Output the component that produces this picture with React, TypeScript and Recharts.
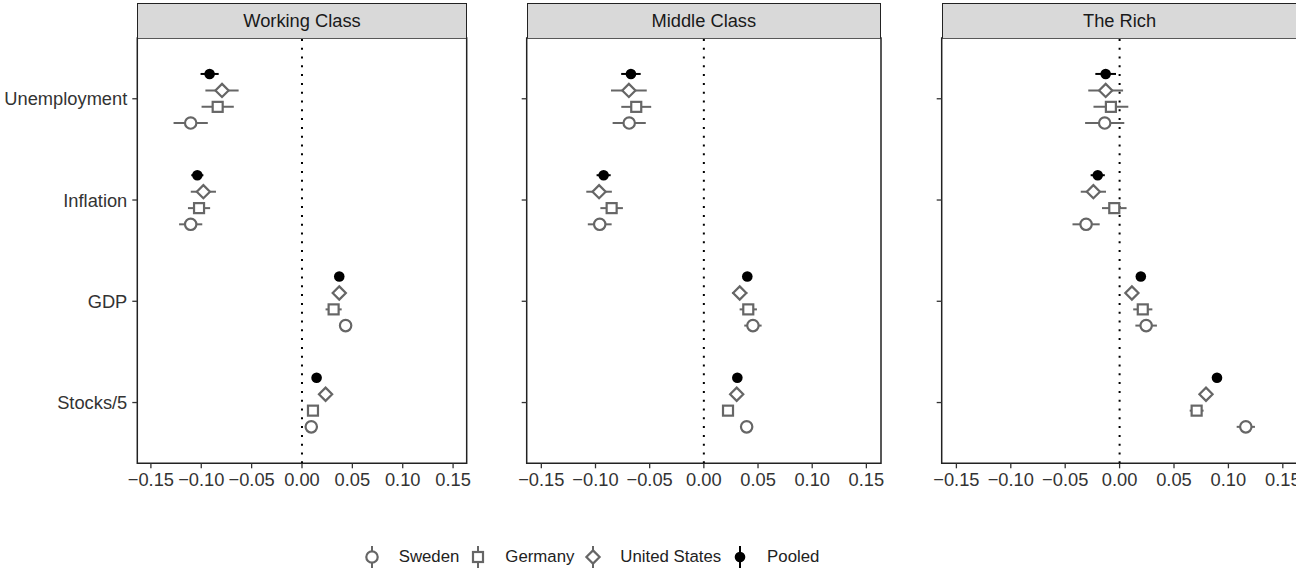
import React from 'react'
import { ScatterChart, Scatter, XAxis, YAxis, ErrorBar, ReferenceLine, ReferenceArea } from 'recharts'

const panels = ['Working Class', 'Middle Class', 'The Rich']
const categories = ['Unemployment', 'Inflation', 'GDP', 'Stocks/5']
const xTicks = [-0.15, -0.1, -0.05, 0, 0.05, 0.1, 0.15]
const series = ['Pooled', 'United States', 'Germany', 'Sweden']

// estimates and half-widths of the intervals, in category order
const wcPooled = [-0.0917, -0.1039, 0.037, 0.0145]
const wcPooledErr = [0.009, 0.006, 0.002, 0.002]
const wcUS = [-0.0794, -0.0979, 0.037, 0.0234]
const wcUSErr = [0.0165, 0.0125, 0.004, 0.003]
const wcGermany = [-0.0837, -0.1022, 0.0314, 0.0109]
const wcGermanyErr = [0.016, 0.011, 0.008, 0.004]
const wcSweden = [-0.1105, -0.1105, 0.0433, 0.0092]
const wcSwedenErr = [0.017, 0.0115, 0.005, 0.004]

const mcPooled = [-0.0673, -0.0925, 0.0401, 0.0309]
const mcPooledErr = [0.009, 0.0065, 0.002, 0.002]
const mcUS = [-0.0692, -0.0967, 0.0331, 0.0303]
const mcUSErr = [0.0165, 0.0118, 0.007, 0.003]
const mcGermany = [-0.0624, -0.0851, 0.041, 0.0223]
const mcGermanyErr = [0.0138, 0.0104, 0.008, 0.004]
const mcSweden = [-0.0689, -0.0961, 0.0453, 0.0395]
const mcSwedenErr = [0.0153, 0.011, 0.008, 0.004]

const trPooled = [-0.0128, -0.0201, 0.0195, 0.0895]
const trPooledErr = [0.0095, 0.0065, 0.002, 0.002]
const trUS = [-0.0128, -0.0241, 0.0113, 0.0794]
const trUSErr = [0.016, 0.0116, 0.006, 0.004]
const trGermany = [-0.008, -0.0049, 0.0213, 0.0708]
const trGermanyErr = [0.016, 0.0113, 0.0088, 0.0064]
const trSweden = [-0.0137, -0.0308, 0.0244, 0.116]
const trSwedenErr = [0.018, 0.0125, 0.0099, 0.0084]

const panelData = [
  [[wcPooled, wcPooledErr], [wcUS, wcUSErr], [wcGermany, wcGermanyErr], [wcSweden, wcSwedenErr]],
  [[mcPooled, mcPooledErr], [mcUS, mcUSErr], [mcGermany, mcGermanyErr], [mcSweden, mcSwedenErr]],
  [[trPooled, trPooledErr], [trUS, trUSErr], [trGermany, trGermanyErr], [trSweden, trSwedenErr]],
]

const dodge = [-0.245, -0.082, 0.08, 0.24]
const grey = '#666666'
const font = '"Liberation Sans", Arial, Helvetica, sans-serif'
const fontSize = 18.3
const legendFontSize = 16.8
const xDomain = [-0.1635, 0.1635]
const yDomain = [0.4, 4.6]

// plot-area boxes of the three panels (page coordinates)
const layout = [
  { left: 0, yAxisW: 137.3, plotW: 329.4, labels: true },
  { left: 505, yAxisW: 21.7, plotW: 354.3, labels: false },
  { left: 920, yAxisW: 21.7, plotW: 355.8, labels: false },
]
const chartTop = 30
const plotTop = 38
const plotH = 425.3

function Marker({ kind, cx, cy }: { kind: string; cx: number; cy: number }) {
  if (kind === 'Pooled') return <circle cx={cx} cy={cy} r={5.3} fill="#000" />
  if (kind === 'Sweden')
    return <circle cx={cx} cy={cy} r={5.7} fill="#fff" stroke={grey} strokeWidth={2.2} />
  if (kind === 'Germany')
    return <rect x={cx - 5} y={cy - 5} width={10} height={10} fill="#fff" stroke={grey} strokeWidth={2.2} />
  const d = 6.6
  return (
    <polygon
      points={`${cx},${cy - d} ${cx + d},${cy} ${cx},${cy + d} ${cx - d},${cy}`}
      fill="#fff"
      stroke={grey}
      strokeWidth={2.2}
    />
  )
}

const fmt = (v: number) => (v < 0 ? '\u2212' : '') + Math.abs(v).toFixed(2)

function Panel({ idx }: { idx: number }) {
  const cfg = layout[idx]
  const width = cfg.yAxisW + cfg.plotW + 12
  const height = 470
  return (
    <div style={{ position: 'absolute', left: cfg.left, top: chartTop }}>
      <ScatterChart
        width={width}
        height={height}
        margin={{ top: plotTop - chartTop, right: 12, left: 0, bottom: height - (plotTop - chartTop) - plotH - 30 }}
      >
        <XAxis
          type="number"
          dataKey="x"
          domain={xDomain}
          ticks={xTicks}
          tickFormatter={fmt}
          axisLine={false}
          tickLine={{ stroke: '#333', strokeWidth: 1.3 }}
          tickSize={5}
          tickMargin={5}
          height={30}
          allowDataOverflow
          tick={{ fill: '#333', fontSize, fontFamily: font }}
        />
        <YAxis
          type="number"
          dataKey="y"
          domain={yDomain}
          reversed
          ticks={[1, 2, 3, 4]}
          tickFormatter={(v: number) => (cfg.labels ? categories[v - 1] : '')}
          axisLine={false}
          tickLine={{ stroke: '#333', strokeWidth: 1.3 }}
          tickSize={5}
          tickMargin={5}
          width={cfg.yAxisW}
          allowDataOverflow
          tick={{ fill: '#333', fontSize, fontFamily: font }}
        />
        <ReferenceLine x={0} stroke="#000" strokeWidth={2} strokeDasharray="2 6.8" />
        {series.map((name, s) => {
          const [est, err] = panelData[idx][s]
          const data = categories.map((c, i) => ({ cat: c, x: est[i], y: i + 1 + dodge[s], err: err[i] }))
          return (
            <Scatter
              key={name}
              name={name}
              data={data}
              isAnimationActive={false}
              shape={(p: any) => <Marker kind={name} cx={p.cx} cy={p.cy} />}
            >
              <ErrorBar
                dataKey="err"
                direction="x"
                width={0}
                stroke={name === 'Pooled' ? '#000' : grey}
                strokeWidth={2}
              />
            </Scatter>
          )
        })}
        <ReferenceArea
          x1={xDomain[0]}
          x2={xDomain[1]}
          y1={yDomain[0]}
          y2={yDomain[1]}
          fill="none"
          fillOpacity={0}
          stroke="#222"
          strokeWidth={1.5}
          ifOverflow="visible"
        />
      </ScatterChart>
    </div>
  )
}

function Strip({ idx }: { idx: number }) {
  const cfg = layout[idx]
  return (
    <div
      style={{
        position: 'absolute',
        left: cfg.left + cfg.yAxisW,
        top: 3,
        width: cfg.plotW,
        height: plotTop - 3,
        boxSizing: 'border-box',
        border: '1.5px solid #222',
        borderBottom: 'none',
        background: '#D9D9D9',
        color: '#1a1a1a',
        fontFamily: font,
        fontSize,
        display: 'flex',
        alignItems: 'center',
        justifyContent: 'center',
      }}
    >
      {panels[idx]}
    </div>
  )
}

function LegendIcon({ kind }: { kind: string }) {
  const color = kind === 'Pooled' ? '#000' : grey
  return (
    <svg width={22} height={24} style={{ display: 'block' }}>
      <line x1={11} x2={11} y1={1} y2={23} stroke={color} strokeWidth={2} />
      <Marker kind={kind} cx={11} cy={12} />
    </svg>
  )
}

const legendOrder = ['Sweden', 'Germany', 'United States', 'Pooled']

export default function App() {
  return (
    <div style={{ position: 'absolute', left: 0, top: 0, width: 1296, height: 573, overflow: 'hidden', background: '#fff' }}>
      {panels.map((p, i) => (
        <Panel key={p} idx={i} />
      ))}
      {panels.map((p, i) => (
        <Strip key={p} idx={i} />
      ))}
      <div
        style={{
          position: 'absolute',
          left: 360.7,
          top: 545,
          display: 'flex',
          alignItems: 'center',
          fontFamily: font,
          fontSize: legendFontSize,
          color: '#222',
        }}
      >
        {legendOrder.map((k) => (
          <div key={k} style={{ display: 'flex', alignItems: 'center', marginRight: 8 }}>
            <LegendIcon kind={k} />
            <span style={{ marginLeft: 16 }}>{k}</span>
          </div>
        ))}
      </div>
    </div>
  )
}
